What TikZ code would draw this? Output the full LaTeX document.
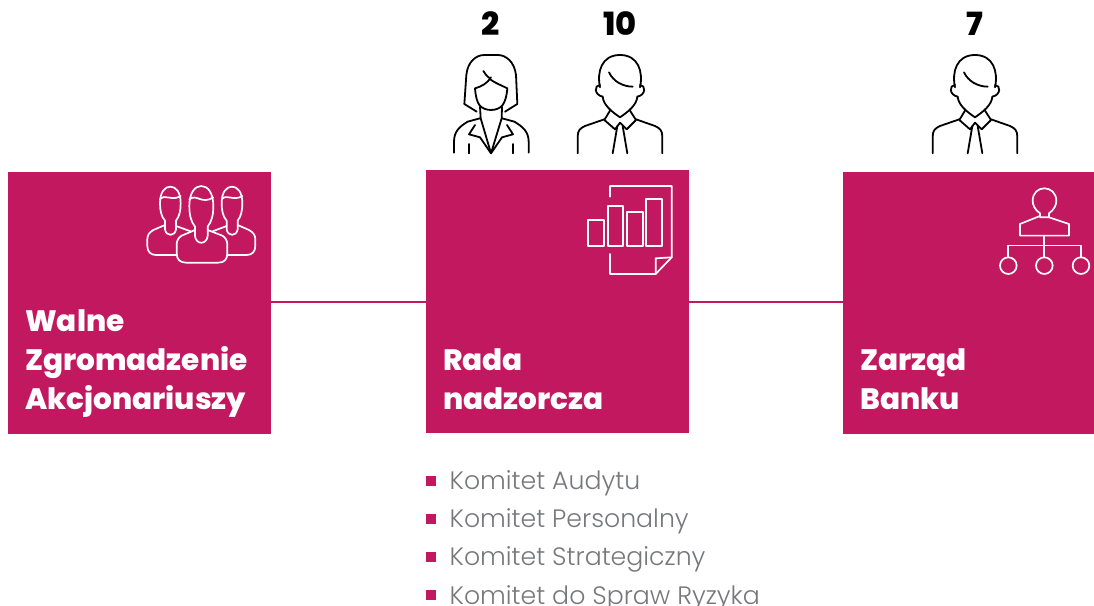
\documentclass[tikz,border=0pt]{standalone}
\usepackage{fontspec}
\setmainfont{Poppins}
\newfontfamily\lightfont{Poppins Light}
\newfontfamily\heavyfont{Poppins ExtraBold}
\definecolor{crim}{HTML}{C2185F}
\definecolor{txtgray}{HTML}{77787B}
\tikzset{
  x=1pt,y=-1pt,
  box/.style={fill=crim,draw=none,inner sep=0pt,anchor=north west},
  linkline/.style={draw=crim,line width=1.8pt},
  head/.style={font=\heavyfont\fontsize{29.5}{29.5}\selectfont,text=white,anchor=base west,inner sep=0pt},
  count/.style={font=\heavyfont\fontsize{32}{32}\selectfont,text=black,anchor=base,inner sep=0pt},
  item/.style={font=\lightfont\fontsize{25.2}{25.2}\selectfont,text=txtgray,anchor=base west,inner sep=0pt},
  bullet/.style={fill=crim,inner sep=0pt,minimum size=10pt,anchor=center},
  ink/.style={draw=black,line width=1.8pt,line cap=round,line join=round,x=0.3333pt,y=-0.3333pt},
  wink/.style={draw=white,line width=1.7pt,line cap=round,line join=round,x=0.3333pt,y=-0.3333pt},
  man/.pic={
    \draw[ink] (-60,262) .. controls (-70,215) and (-55,165) .. (0,165) .. controls (55,165) and (70,215) .. (60,262);
    \draw[ink] (-60,255) .. controls (-78,255) and (-78,285) .. (-52,290) .. controls (-50,315) and (-25,335) .. (0,352) .. controls (25,335) and (50,315) .. (52,290) .. controls (78,285) and (78,255) .. (60,255);
    \draw[ink] (-33,217) .. controls (-20,245) and (10,260) .. (38,260);
    \draw[ink] (-30,332) -- (-47,360) -- (-15,388) -- (0,368) -- (20,388) -- (48,360) -- (30,332);
    \draw[ink] (-47,358) -- (-105,378) .. controls (-120,385) and (-127,392) .. (-127,410) -- (-127,460);
    \draw[ink] (48,358) -- (105,378) .. controls (120,385) and (127,392) .. (127,410) -- (127,460);
    \draw[ink] (-8,378) -- (-22,460);
    \draw[ink] (8,378) -- (22,460);
  },
  woman/.pic={
    \draw[ink] (-43,335) -- (-80,312) -- (-74,225) .. controls (-70,185) and (-45,165) .. (-20,165) -- (20,165) .. controls (45,165) and (70,185) .. (75,225) -- (79,312) -- (42,335);
    \draw[ink] (-23,213) .. controls (-15,228) and (-5,232) .. (0,240) .. controls (15,250) and (35,258) .. (49,265) .. controls (47,290) and (42,305) .. (35,315) .. controls (20,335) and (-20,335) .. (-35,315) .. controls (-42,305) and (-46,290) .. (-48,265) .. controls (-30,260) and (-10,250) .. (0,232);
    \draw[ink] (-33,320) -- (-31,355) -- (0,460) -- (32,355) -- (33,320);
    \draw[ink] (-33,355) -- (-70,365) .. controls (-95,380) and (-111,395) .. (-111,425) -- (-111,458);
    \draw[ink] (33,355) -- (70,365) .. controls (95,380) and (113,395) .. (113,425) -- (113,458);
    \draw[ink] (-48,375) -- (-66,403) -- (-33,412) -- (0,460) -- (33,412) -- (66,403) -- (48,375);
    \draw[ink] (-66,432) -- (-66,460);
    \draw[ink] (65,432) -- (65,460);
  },
}
\begin{document}
\begin{tikzpicture}
\useasboundingbox (0,0) rectangle (1094,605);
\clip (0,0) rectangle (1094,605);
% boxes
\node[box,minimum width=263pt,minimum height=262pt] (walne) at (8,172) {};
\node[box,minimum width=263pt,minimum height=263pt] (rada) at (426,170) {};
\node[box,minimum width=251pt,minimum height=262pt] (zarzad) at (843,172) {};
\draw[linkline] ([yshift=1.5pt]walne.east) -- (rada.west);
\draw[linkline] (rada.east) -- ([yshift=1.5pt]zarzad.west);
% headings
\node[head] (w1) at (25,331.8) {Walne};
\node[head] (w2) at (25,370.5) {Zgromadzenie};
\node[head] (w3) at (25,409) {Akcjonariuszy};
\node[head] (r1) at (443,370.5) {Rada};
\node[head] (r2) at (443,409) {nadzorcza};
\node[head] (z1) at (860,370.5) {Zarząd};
\node[head] (z2) at (860,409) {Banku};
% counts
\node[count] (n2) at (491,35.5) {2};
\node[count] (n10) at (620,35.5) {10};
\node[count] (n7) at (975,35.5) {7};
% people
\pic at (491,0) {woman};
\pic at (620,0) {man};
\pic at (975,0) {man};
% group icon
\begin{scope}[shift={(130,170)}]
  \draw[wink] (105,152) .. controls (94,140) and (90,122) .. (90,100) .. controls (90,65) and (105,50) .. (121,50) .. controls (137,50) and (152,65) .. (152,100) .. controls (152,122) and (148,140) .. (138,152) -- (138,178) .. controls (135,200) and (108,200) .. (105,178) -- cycle;
  \draw[wink] (90,88) .. controls (105,70) and (125,95) .. (152,78);
  \draw[wink] (290,152) .. controls (279,140) and (275,122) .. (275,100) .. controls (275,65) and (290,50) .. (306,50) .. controls (322,50) and (337,65) .. (337,100) .. controls (337,122) and (333,140) .. (323,152) -- (323,178) .. controls (320,200) and (293,200) .. (290,178) -- cycle;
  \draw[wink] (275,88) .. controls (290,70) and (310,95) .. (337,78);
  \draw[wink] (195,170) .. controls (183,155) and (178,135) .. (178,108) .. controls (178,68) and (195,48) .. (214,48) .. controls (233,48) and (250,68) .. (250,108) .. controls (250,135) and (245,155) .. (233,170) -- (233,198) .. controls (230,225) and (198,225) .. (195,198) -- cycle;
  \draw[wink] (178,88) .. controls (200,70) and (215,105) .. (250,82);
  \draw[wink] (195,180) -- (155,197) .. controls (145,203) and (140,212) .. (140,225) -- (140,250) .. controls (140,268) and (150,278) .. (168,278) -- (265,278) .. controls (283,278) and (292,268) .. (292,250) -- (292,225) .. controls (292,212) and (287,203) .. (277,197) -- (233,180);
  \draw[wink] (105,165) -- (70,180) .. controls (58,187) and (52,195) .. (52,208) -- (52,228) .. controls (52,245) and (62,255) .. (78,255) -- (138,255);
  \draw[wink] (138,168) -- (182,184);
  \draw[wink] (323,165) -- (357,180) .. controls (369,187) and (376,195) .. (376,208) -- (376,228) .. controls (376,245) and (366,255) .. (350,255) -- (292,255);
  \draw[wink] (290,168) -- (248,184);
\end{scope}
% chart icon
\begin{scope}[shift={(570,170)}]
  \draw[wink] (55,150) rectangle (103,228);
  \draw[wink] (113,107) rectangle (160,228);
  \draw[wink] (172,127) rectangle (218,228);
  \draw[wink] (229,88) rectangle (277,228);
  \draw[wink] (120,80) -- (120,48) -- (305,48) -- (305,262) -- (257,312) -- (120,312) -- (120,252);
  \draw[wink] (257,312) -- (257,265) -- (305,262);
\end{scope}
% org icon
\begin{scope}[shift={(920,0)}]
  \draw[wink] (360,648) -- (360,640) .. controls (345,630) and (338,615) .. (338,603) .. controls (338,578) and (355,565) .. (373,565) .. controls (391,565) and (409,578) .. (409,603) .. controls (409,615) and (402,630) .. (387,640) -- (387,650);
  \draw[wink] (360,648) -- (300,672) -- (300,707) -- (447,707) -- (447,672) -- (387,652) -- (360,652);
  \draw[wink] (373,707) -- (373,772);
  \draw[wink] (264,772) -- (264,737) -- (483,737) -- (483,772);
  \draw[wink] (265,797) circle[radius=25];
  \draw[wink] (373,797) circle[radius=25];
  \draw[wink] (483,797) circle[radius=25];
\end{scope}
% list
\node[bullet] (b1) at (431,481) {};
\node[bullet] (b2) at (431,519) {};
\node[bullet] (b3) at (431,557) {};
\node[bullet] (b4) at (431,595) {};
\node[item] (k1) at (449.5,489) {Komitet Audytu};
\node[item] (k2) at (449.5,527.5) {Komitet Personalny};
\node[item] (k3) at (449.5,565.5) {Komitet Strategiczny};
\node[item] (k4) at (449.5,604) {Komitet do Spraw Ryzyka};
\end{tikzpicture}
\end{document}
